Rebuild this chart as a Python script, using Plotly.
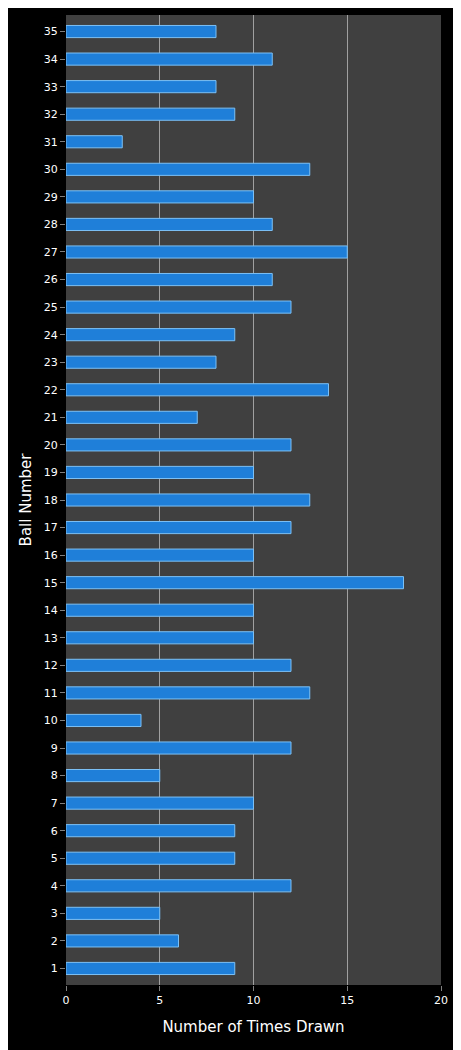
import plotly.graph_objects as go

balls = list(range(1, 36))
times_drawn = [9, 6, 5, 12, 9, 9, 10, 5, 12, 4,
               13, 12, 10, 10, 18, 10, 12, 13, 10, 12,
               7, 14, 8, 9, 12, 11, 15, 11, 10, 13,
               3, 9, 8, 11, 8]

fig = go.Figure(go.Bar(
    x=times_drawn, y=balls, orientation="h",
    marker=dict(color="#1f7fd9", line=dict(color="#7cc0f5", width=1)),
))

fig.update_layout(
    width=461, height=1050,
    paper_bgcolor="black", plot_bgcolor="#404040",
    margin=dict(l=58, r=28, t=7, b=73),
    bargap=0.56,
    showlegend=False,
    font=dict(family="DejaVu Sans", color="white", size=11),
)
fig.update_xaxes(
    range=[0, 20], dtick=5, showgrid=True, gridcolor="#a0a0a0", gridwidth=1,
    zeroline=False, ticks="outside", tickcolor="#808080",
    title=dict(text="Number of Times Drawn", font=dict(size=15)),
)
fig.update_yaxes(
    range=[0.4, 35.6], tickmode="array", tickvals=balls, showgrid=False,
    zeroline=False, ticks="outside", tickcolor="#808080",
    title=dict(text="Ball Number", font=dict(size=15), standoff=8),
)

fig.write_html("out.html")
